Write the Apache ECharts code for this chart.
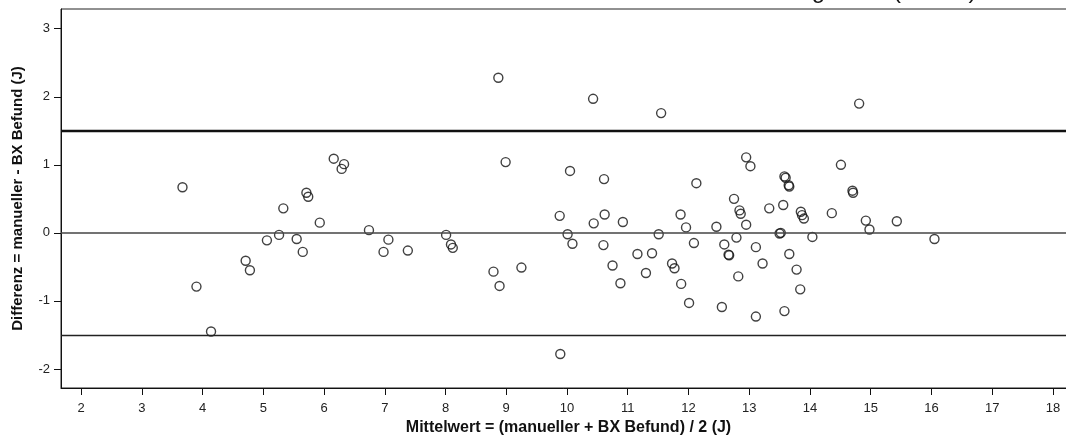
<!DOCTYPE html>
<html>
<head>
<meta charset="utf-8">
<script src="https://cdn.jsdelivr.net/npm/echarts@6/dist/echarts.min.js"></script>
<style>
html,body{margin:0;padding:0;background:#fff;}
#chart{width:1066px;height:439px;}
</style>
</head>
<body>
<div id="chart"></div>
<script>
// Mittelwert (x) and Differenz (y) for each measurement
var meanVals = [3.67,3.90,4.14,4.71,4.78,5.06,5.26,5.33,5.55,5.65,5.71,5.74,5.93,6.16,6.29,6.33,6.74,6.98,7.06,7.38,
  8.01,8.09,8.12,8.79,8.87,8.89,8.99,9.25,9.88,9.89,10.01,10.05,10.09,10.43,10.44,10.60,10.61,10.62,10.75,10.88,
  10.92,11.16,11.30,11.40,11.51,11.55,11.73,11.77,11.87,11.88,11.96,12.01,12.09,12.13,12.46,12.55,12.59,12.66,12.67,12.75,
  12.79,12.82,12.84,12.86,12.95,12.95,13.02,13.11,13.11,13.22,13.33,13.50,13.52,13.56,13.58,13.58,13.60,13.65,13.66,13.66,
  13.78,13.84,13.85,13.87,13.90,14.04,14.36,14.51,14.70,14.71,14.81,14.92,14.98,15.43,16.05];
var diffVals = [0.67,-0.79,-1.45,-0.41,-0.55,-0.11,-0.03,0.36,-0.09,-0.28,0.59,0.53,0.15,1.09,0.94,1.01,0.04,-0.28,-0.10,-0.26,
  -0.03,-0.17,-0.22,-0.57,2.28,-0.78,1.04,-0.51,0.25,-1.78,-0.02,0.91,-0.16,1.97,0.14,-0.18,0.79,0.27,-0.48,-0.74,
  0.16,-0.31,-0.59,-0.30,-0.02,1.76,-0.45,-0.52,0.27,-0.75,0.08,-1.03,-0.15,0.73,0.09,-1.09,-0.17,-0.32,-0.33,0.50,
  -0.07,-0.64,0.33,0.28,0.12,1.11,0.98,-0.21,-1.23,-0.45,0.36,-0.01,0.00,0.41,-1.15,0.83,0.81,0.70,0.68,-0.31,
  -0.54,-0.83,0.31,0.26,0.21,-0.06,0.29,1.00,0.62,0.59,1.90,0.18,0.05,0.17,-0.09];
// reference lines: mean difference and limits of agreement
var meanDiff = 0;
var upperLimit = 1.5;
var lowerLimit = -1.5;
var xTicks = [2,3,4,5,6,7,8,9,10,11,12,13,14,15,16,17,18];
var yTicks = [-2,-1,0,1,2,3];
var titleText = 'Bland-Altman Diagramm (n = 95)';
var xName = 'Mittelwert = (manueller + BX Befund) / 2 (J)';
var yName = 'Differenz = manueller - BX Befund (J)';

var points = meanVals.map(function(x, i){ return [x, diffVals[i]]; });

var chart = echarts.init(document.getElementById('chart'), null, {renderer:'canvas'});
chart.setOption({
  animation: false,
  backgroundColor: '#fff',
  graphic: [{
    type: 'text',
    left: 625, top: -21,
    z: 100,
    style: { text: titleText, font: '24px "Liberation Sans", Arial, sans-serif', fill: '#111' }
  }],
  grid: { left: 61, top: 9, right: -10, bottom: 51, outerBoundsMode: 'none', containLabel: false,
          show: true, borderColor: '#222', borderWidth: 1, backgroundColor: '#fff' },
  xAxis: {
    type: 'value', min: 1.67, max: 18.38,
    name: xName, nameLocation: 'middle', nameGap: 25,
    nameTextStyle: { fontFamily: '"Liberation Sans", Arial', fontWeight: 'bold', fontSize: 16, color: '#111' },
    axisLine: { show: true, onZero: false, lineStyle: { color: '#111', width: 1 } },
    axisTick: { show: true, customValues: xTicks, length: 7, lineStyle: { color: '#111' } },
    axisLabel: { customValues: xTicks, margin: 14, fontFamily: '"Liberation Sans", Arial', fontSize: 13, color: '#222' },
    splitLine: { show: false }
  },
  yAxis: {
    type: 'value', min: -2.28, max: 3.29,
    name: yName, nameLocation: 'middle', nameGap: 36, nameRotate: 90,
    nameTextStyle: { fontFamily: '"Liberation Sans", Arial', fontWeight: 'bold', fontSize: 15, color: '#111' },
    axisLine: { show: true, onZero: false, lineStyle: { color: '#111', width: 1 } },
    axisTick: { show: true, customValues: yTicks, length: 7, lineStyle: { color: '#111' } },
    axisLabel: { customValues: yTicks, margin: 11, fontFamily: '"Liberation Sans", Arial', fontSize: 13, color: '#222' },
    splitLine: { show: false }
  },
  series: [{
    type: 'scatter',
    data: points,
    symbol: 'circle',
    symbolSize: 9,
    itemStyle: { color: 'rgba(255,255,255,0)', borderColor: '#111', borderWidth: 1.4 },
    markLine: {
      silent: true, symbol: 'none', label: { show: false },
      data: [
        { yAxis: meanDiff, lineStyle: { color: '#444', width: 1.6, type: 'solid' } },
        { yAxis: upperLimit, lineStyle: { color: '#111', width: 2.4, type: 'solid' } },
        { yAxis: lowerLimit, lineStyle: { color: '#222', width: 1.3, type: 'solid' } }
      ]
    },
    z: 3
  }]
});
</script>
</body>
</html>
